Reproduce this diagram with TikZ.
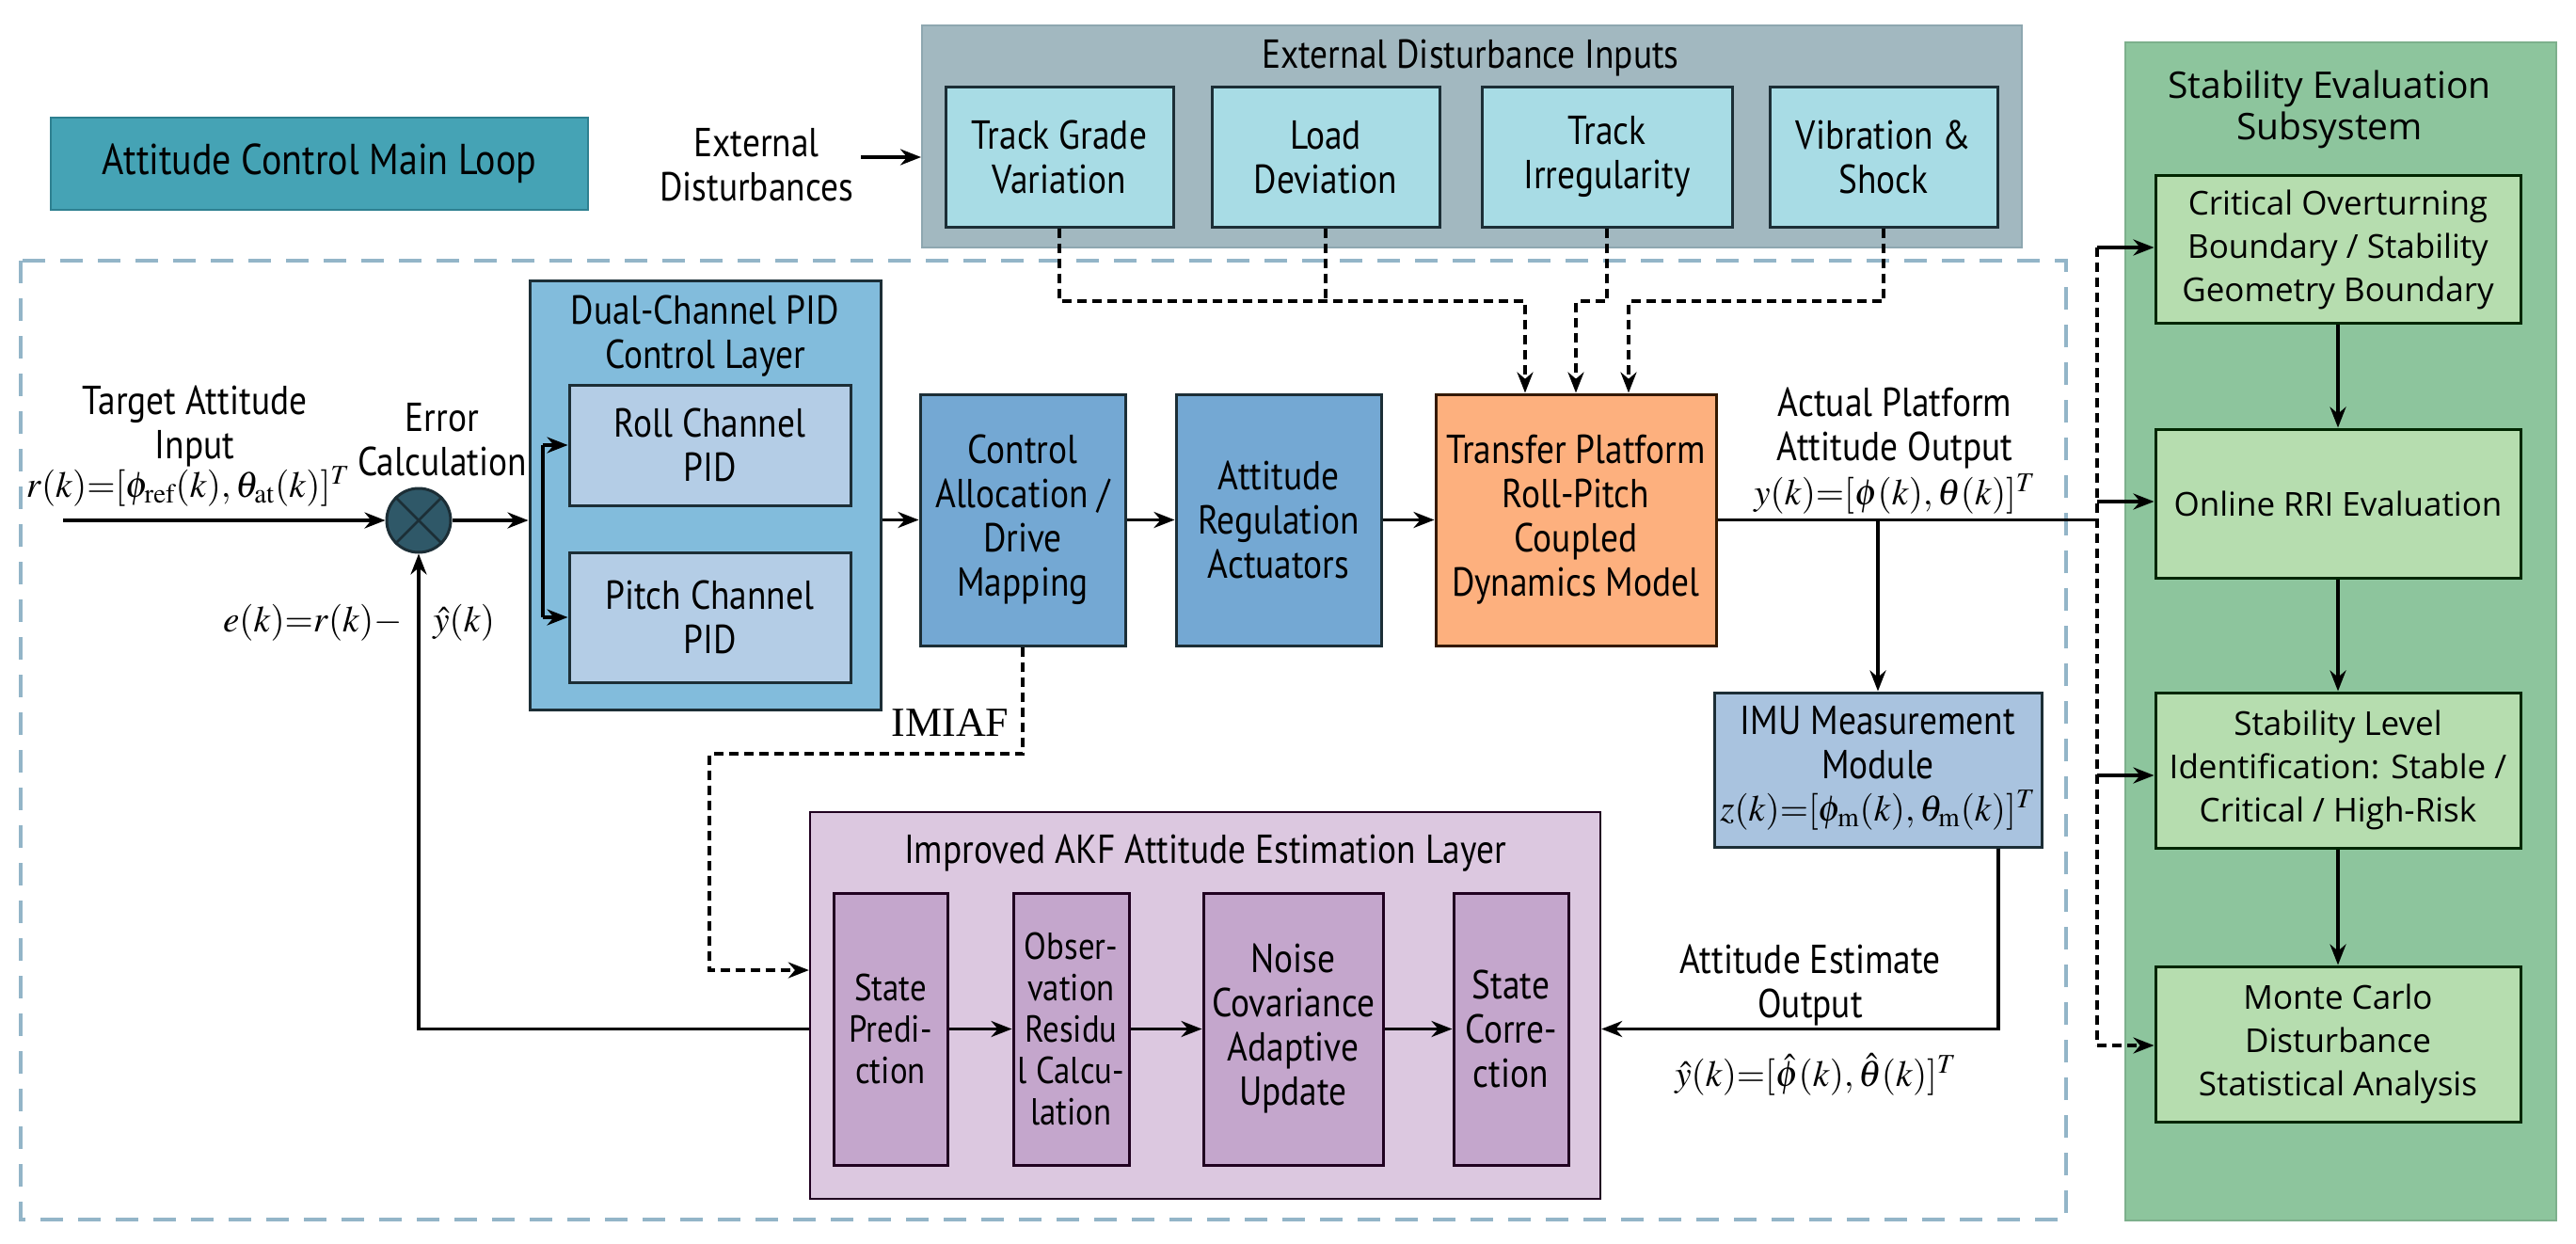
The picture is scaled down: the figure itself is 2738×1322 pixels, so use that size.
\documentclass[tikz,border=0pt]{standalone}
\usepackage{mathptmx}
\usepackage[no-math]{fontspec}
\setmainfont{PT Sans}[FakeStretch=0.87]
\newfontfamily\gfont{Open Sans}
\newfontfamily\serifr{Liberation Serif}
\usetikzlibrary{arrows.meta}
\definecolor{cTitle}{HTML}{45A3B5}
\definecolor{cTitleB}{HTML}{2E8090}
\definecolor{cExtO}{HTML}{A2B8C0}
\definecolor{cExtOB}{HTML}{8EA7B0}
\definecolor{cExtI}{HTML}{A8DCE5}
\definecolor{cDark}{HTML}{1C2E36}
\definecolor{cDual}{HTML}{82BCDC}
\definecolor{cRoll}{HTML}{B4CDE6}
\definecolor{cCA}{HTML}{74A8D3}
\definecolor{cOr}{HTML}{FDB07E}
\definecolor{cIMU}{HTML}{A9C3DF}
\definecolor{cPurO}{HTML}{DCC8E0}
\definecolor{cPurI}{HTML}{C4A6CC}
\definecolor{cGreen}{HTML}{8DC59D}
\definecolor{cGreenB}{HTML}{7DB08C}
\definecolor{cGreenI}{HTML}{B6DDAF}
\definecolor{cCirc}{HTML}{2F5868}
\definecolor{cLoop}{HTML}{93B5C8}
\newcommand\fA{\fontsize{21.5}{23.5}\selectfont}
\newcommand\fB{\fontsize{20}{22}\selectfont}
\newcommand\fG{\gfont\fontsize{17.5}{23}\selectfont}
\tikzset{
  box/.style={draw=cDark, line width=1.5pt, align=center, inner sep=2pt, text=black, font=\fA},
  gbox/.style={box, fill=cGreenI, draw=black!85!green, font=\fG},
  lbl/.style={align=center, inner sep=0pt, text=black, font=\fA},
  mth/.style={inner sep=0pt, text=black, font=\fontsize{19.5}{24}\selectfont},
  line/.style={line width=1.8pt, black},
  arr/.style={line, -{Stealth[length=11pt,width=8.5pt]}},
  dsh/.style={line width=1.6pt, black, dash pattern=on 5pt off 3pt},
  dsharr/.style={dsh, -{Stealth[length=11pt,width=8.5pt]}},
}
\begin{document}
\begin{tikzpicture}[x=0.5pt,y=-0.5pt]
\useasboundingbox (0,0) rectangle (2738,1322);
\fill[white] (0,0) rectangle (2738,1322);

% main loop dashed frame
\draw[cLoop, line width=2pt, dash pattern=on 12pt off 8pt] (22,277) rectangle (2196,1296);

% title
\node[box, fill=cTitle, draw=cTitleB, line width=1pt, minimum width=285.5pt, minimum height=49pt, font=\fontsize{23}{25}\selectfont] (title) at (339.5,174) {Attitude Control Main Loop};

% external disturbances
\node[lbl] (extlbl) at (804,175) {External\\Disturbances};
\node[box, fill=cExtO, draw=cExtOB, line width=1pt, minimum width=584.5pt, minimum height=118pt] (extin) at (1564.5,145) {};
\node[lbl] (exttitle) at (1563,62) {External Disturbance Inputs};
\node[box, fill=cExtI, minimum width=121pt, minimum height=74pt] (dA) at (1126,167) {Track Grade\\Variation};
\node[box, fill=cExtI, minimum width=121pt, minimum height=74pt] (dB) at (1409,167) {Load\\Deviation};
\node[box, fill=cExtI, minimum width=133pt, minimum height=74pt] (dC) at (1708,167) {Track\\Irregularity};
\node[box, fill=cExtI, minimum width=121pt, minimum height=74pt] (dD) at (2002,167) {Vibration \&\\Shock};
\coordinate (extarr) at (915,167);
\draw[arr] (extarr) -- (extarr -| extin.west);

% PID layer
\node[box, fill=cDual, minimum width=186.5pt, minimum height=228pt] (dual) at (749.5,526) {};
\node[lbl] (dualtitle) at (749.5,357) {Dual-Channel PID\\Control Layer};
\node[box, fill=cRoll, minimum width=149.5pt, minimum height=64pt] (roll) at (754.5,473) {Roll Channel\\PID};
\node[box, fill=cRoll, minimum width=149.5pt, minimum height=69pt] (pitch) at (754.5,656) {Pitch Channel\\PID};

% forward path boxes
\node[box, fill=cCA, minimum width=109pt, minimum height=133.5pt] (ca) at (1087,552.5) {Control\\Allocation /\\Drive\\Mapping};
\node[box, fill=cCA, minimum width=109pt, minimum height=133.5pt] (ar) at (1359,552.5) {Attitude\\Regulation\\Actuators};
\node[box, fill=cOr, draw=black!80!orange, minimum width=149pt, minimum height=133.5pt] (plant) at (1675,552.5) {Transfer Platform\\Roll-Pitch\\Coupled\\Dynamics Model};

% summing junction
\node[circle, draw=cDark, fill=cCirc, line width=1.5pt, minimum size=34pt, inner sep=0pt] (circ) at (445,553) {};
\draw[cDark, line width=1.3pt] (circ.north west) -- (circ.south east) (circ.north east) -- (circ.south west);

% input labels
\node[lbl] (tgt) at (207,453) {Target Attitude\\Input};
\node[mth] (rk) at (200,517) {$r(k){=}[\phi_{\mathrm{ref}}(k),\theta_{\mathrm{at}}(k)]^{T}$};
\node[lbl] (errc) at (470,467) {Error\\Calculation};
\node[mth, anchor=east] (ek) at (428,662) {$e(k){=}r(k){-}$};
\node[mth, anchor=west] (yh) at (460,662) {$\hat{y}(k)$};
\coordinate (inp) at (67,553);
\draw[arr] (inp) -- (circ.west);
\draw[arr] (circ.east) -- (circ.east -| dual.west);
\coordinate (brt) at (577,473);
\coordinate (brb) at (577,656);
\draw[line] (brt) -- (brb);
\draw[arr] (brt) -- (brt -| roll.west);
\draw[arr] (brb) -- (brb -| pitch.west);

\draw[arr] (dual.east |- ca.west) -- (ca.west);
\draw[arr] (ca.east) -- (ar.west);
\draw[arr] (ar.east) -- (plant.west);

% disturbances into plant
\coordinate (dj1) at (1621,320);
\coordinate (dj2) at (1675,320);
\coordinate (dj3) at (1731,320);
\draw[dsharr] (dA.south) |- (dj1) -- (dj1 |- plant.north);
\draw[dsh] (dB.south) -- (dB.south |- dj1);
\draw[dsharr] (dC.south) |- (dj2) -- (dj2 |- plant.north);
\draw[dsharr] (dD.south) |- (dj3) -- (dj3 |- plant.north);

% output
\node[lbl] (actlbl) at (2014,455) {Actual Platform\\Attitude Output};
\node[mth] (yk) at (2014,525) {$y(k){=}[\phi(k),\theta(k)]^{T}$};
\node[box, fill=cIMU, minimum width=174pt, minimum height=82pt] (imu) at (1996,818) {};
\node[lbl] (imut) at (1996,789) {IMU Measurement\\Module};
\node[mth] (zk) at (1996,861) {$z(k){=}[\phi_{\mathrm{m}}(k),\theta_{\mathrm{m}}(k)]^{T}$};
\draw[arr] (imu.north |- plant.east) -- (imu.north);

% AKF layer
\node[box, fill=cPurO, draw=black!75!violet, line width=1.2pt, minimum width=420pt, minimum height=205.5pt] (akf) at (1281,1068.5) {};
\node[lbl] (akft) at (1281,907) {Improved AKF Attitude Estimation Layer};
\node[box, fill=cPurI, draw=black!75!violet, font=\fB, minimum width=60.5pt, minimum height=144.5pt] (sp) at (946.5,1093.5) {State\\Predi-\\ction};
\node[box, fill=cPurI, draw=black!75!violet, font=\fB, inner sep=0pt, minimum width=61.5pt, minimum height=144.5pt] (obs) at (1138.5,1093.5) {Obser-\\vation\\Residu\\l Calcu-\\lation};
\node[box, fill=cPurI, draw=black!75!violet, minimum width=95.5pt, minimum height=144.5pt] (noise) at (1374.5,1093.5) {Noise\\Covariance\\Adaptive\\Update};
\node[box, fill=cPurI, draw=black!75!violet, minimum width=61pt, minimum height=144.5pt] (sc) at (1606,1093.5) {State\\Corre-\\ction};
\draw[arr] (sp.east) -- (obs.west);
\draw[arr] (obs.east) -- (noise.west);
\draw[arr] (noise.east) -- (sc.west);

% IMU to AKF
\coordinate (imuc) at (2124,1093.5);
\draw[arr] (imu.south -| imuc) -- (imuc) -- (imuc -| akf.east);
\node[lbl] (estl) at (1924,1047) {Attitude Estimate\\Output};
\node[mth] (yhk) at (1930,1142) {$\hat{y}(k){=}[\hat{\phi}(k),\hat{\theta}(k)]^{T}$};

% feedback
\draw[arr] (sp.west -| akf.west) -| (circ.south);

% IMIAF
\node[lbl, font=\serifr\fontsize{22}{24}\selectfont] (imiaf) at (1010,768) {IMIAF};
\coordinate (im1) at (754,801);
\coordinate (im2) at (754,1031);
\draw[dsharr] (ca.south) |- (im1) -- (im2) -- (im2 -| akf.west);

% stability evaluation subsystem
\node[box, fill=cGreen, draw=cGreenB, line width=1pt, minimum width=229pt, minimum height=626pt] (gpanel) at (2488,671) {};
\node[lbl, font=\gfont\fontsize{19.5}{22}\selectfont] (gtitle) at (2476,116) {Stability Evaluation\\Subsystem};
\node[gbox, minimum width=194pt, minimum height=78pt] (g1) at (2485,265) {Critical Overturning\\Boundary / Stability\\Geometry Boundary};
\node[gbox, minimum width=194pt, minimum height=79pt] (g2) at (2485,535) {Online RRI Evaluation};
\node[gbox, minimum width=194pt, minimum height=82.5pt] (g3) at (2485,818.5) {Stability Level\\Identification: Stable /\\Critical / High-Risk};
\node[gbox, minimum width=194pt, minimum height=82.5pt] (g4) at (2485,1109.5) {Monte Carlo\\Disturbance\\Statistical Analysis};
\draw[arr] (g1.south) -- (g2.north);
\draw[arr] (g2.south) -- (g3.north);
\draw[arr] (g3.south) -- (g4.north);

\coordinate (gv1) at (2229,263);
\coordinate (gv2) at (2229,533);
\coordinate (gv3) at (2229,824);
\coordinate (gv4) at (2229,1111);
\draw[dsh] (gv1) -- (gv4);
\draw[line] (plant.east) -- (plant.east -| gv1);
\draw[arr] (gv1) -- (gv1 -| g1.west);
\draw[arr] (gv2) -- (gv2 -| g2.west);
\draw[arr] (gv3) -- (gv3 -| g3.west);
\draw[dsharr] (gv4) -- (gv4 -| g4.west);
\end{tikzpicture}
\end{document}
